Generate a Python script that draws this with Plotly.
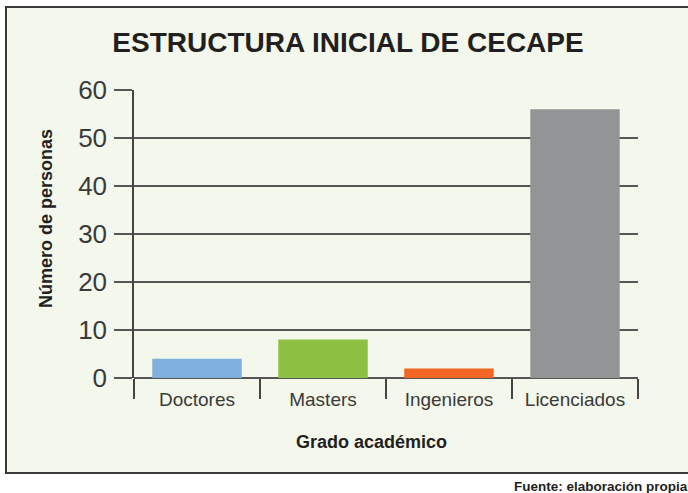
import plotly.graph_objects as go

categories = ["Doctores", "Masters", "Ingenieros", "Licenciados"]
values = [4, 8, 2, 56]
colors = ["#7fb0de", "#8dc043", "#f26522", "#939495"]
y_ticks = [0, 10, 20, 30, 40, 50, 60]

fig = go.Figure()
fig.add_trace(go.Bar(x=categories, y=values, marker=dict(color=colors, line=dict(width=0)),
                     hoverinfo="x+y"))

W, H = 688, 493
L, R, T, B = 134, 50, 90, 115
pw, ph = W - L - R, H - T - B

def px_x(p):
    return (p - L) / pw

def px_y(p):
    return (H - B - p) / ph

fig.update_layout(
    width=W, height=H,
    margin=dict(l=L, r=R, t=T, b=B, pad=0),
    paper_bgcolor="white",
    plot_bgcolor="rgba(0,0,0,0)",
    showlegend=False,
    bargap=0.29,
    font=dict(family="Liberation Sans, Arial, sans-serif", color="#333333"),
    title=dict(text="<b>ESTRUCTURA INICIAL DE CECAPE</b>", x=px_x(348), xanchor="center",
               xref="paper", y=1 - 42 / H, yanchor="middle",
               font=dict(size=28, color="#231f20", family="Liberation Sans, Arial, sans-serif")),
    shapes=[dict(type="rect", xref="paper", yref="paper",
                 x0=px_x(6), x1=px_x(702), y0=px_y(473), y1=px_y(7),
                 fillcolor="#f4f8ec", line=dict(color="#3a3a3a", width=2), layer="below")],
    annotations=[
        dict(text="<b>Fuente: elaboración propia</b>", xref="paper", yref="paper",
             x=px_x(512), y=px_y(486), xanchor="left", yanchor="middle",
             showarrow=False, font=dict(size=13.5, color="#231f20")),
        dict(text="<b>Grado académico</b>", xref="paper", yref="paper",
             x=px_x(371), y=px_y(442), xanchor="center", yanchor="middle",
             showarrow=False, font=dict(size=18, color="#231f20")),
        dict(text="<b>Número de personas</b>", xref="paper", yref="paper",
             x=px_x(46), y=px_y(219), xanchor="center", yanchor="middle", textangle=-90,
             showarrow=False, font=dict(size=18, color="#231f20")),
    ],
)

fig.update_xaxes(
    type="category", range=[-0.5, 3.5],
    showline=False, showgrid=False,
    ticks="outside", tickson="boundaries", ticklen=20, tickwidth=1.5, tickcolor="#444444",
    tickfont=dict(size=19, color="#3a3a3a"),
    ticklabelstandoff=8,
)

fig.update_yaxes(
    range=[0, 60], tickvals=y_ticks,
    showline=True, linecolor="#444444", linewidth=1.5,
    showgrid=True, gridcolor="#555555", gridwidth=1.5,
    zeroline=True, zerolinecolor="#555555", zerolinewidth=1.5,
    ticks="outside", ticklen=18, tickwidth=1.5, tickcolor="#555555",
    tickfont=dict(size=26, color="#3a3a3a"),
    ticklabelstandoff=2,
)

fig.write_html("out.html", config={"displayModeBar": False},
               post_script="document.body.style.margin='0';document.body.style.overflow='hidden';")
